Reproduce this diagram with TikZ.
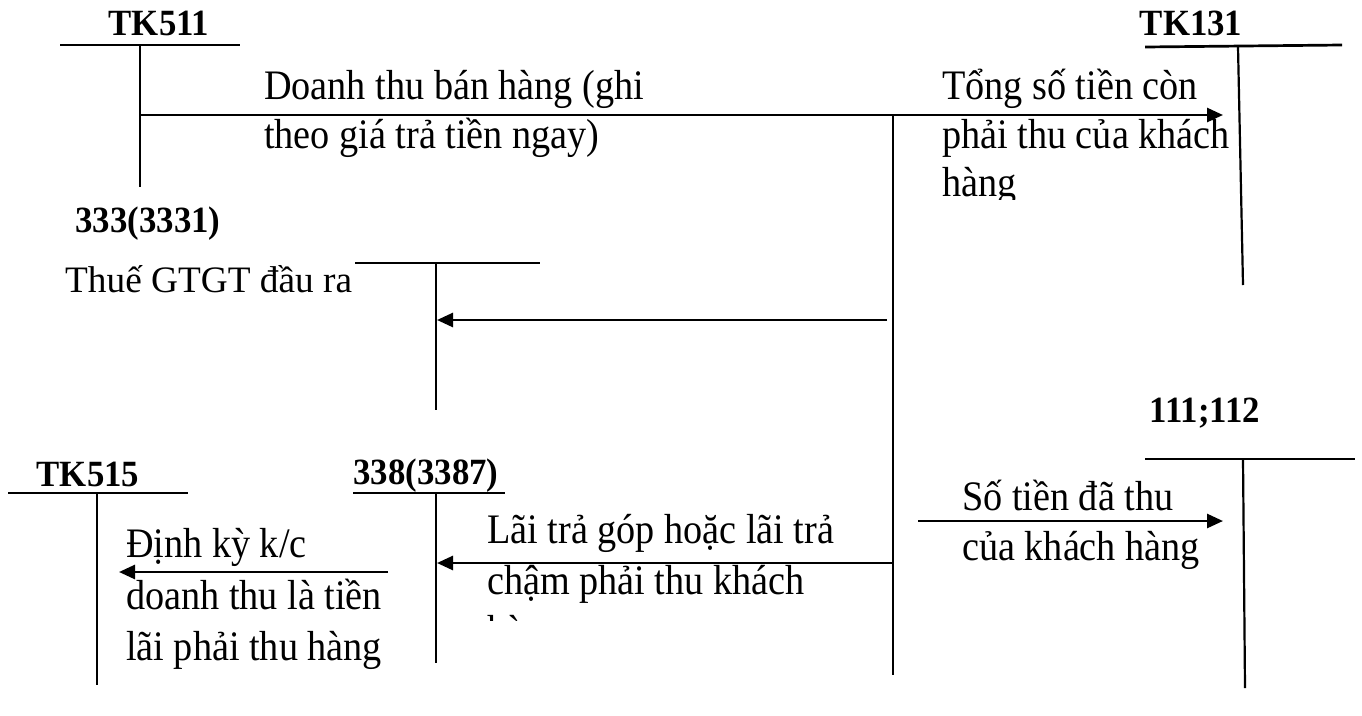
\documentclass[tikz,border=0pt]{standalone}
\usepackage{fontspec}
\setmainfont{Liberation Serif}
\newfontfamily\bodyfont[FakeStretch=0.91]{Liberation Serif}
\newfontfamily\labelfont[FakeStretch=0.94]{Liberation Serif}
\usetikzlibrary{arrows.meta}
\begin{document}
\begin{tikzpicture}[x=1pt,y=-1pt,
  hline/.style={line width=2.7pt},
  vline/.style={line width=2.2pt},
  flow/.style={line width=2.7pt,-{Triangle[length=16pt,width=14pt]}},
  lbl/.style={font=\labelfont\fontsize{37}{40}\selectfont\bfseries,inner sep=0pt,anchor=base},
  txt/.style={font=\bodyfont\fontsize{42}{49}\selectfont,inner sep=0pt,anchor=base west},
  taxtxt/.style={font=\fontsize{37.3}{45}\selectfont,inner sep=0pt,anchor=base west},
]
\useasboundingbox (0,0) rectangle (1362,715);

% account labels
\node[lbl] (tk511) at (159,35) {TK511};
\node[lbl] (tk131) at (1191,35) {TK131};
\node[lbl] (tk333) at (148,232) {333(3331)};
\node[lbl] (tk111) at (1205,422) {111;112};
\node[lbl] (tk515) at (88,486) {TK515};
\node[lbl] (tk338) at (426,484) {338(3387)};

% T-account coordinates
\coordinate (a511l) at (60,45);  \coordinate (a511r) at (240,45);
\coordinate (a511t) at (140,46); \coordinate (a511b) at (140,187);
\coordinate (a131l) at (1145,47); \coordinate (a131r) at (1342,45);
\coordinate (a131t) at (1238,47); \coordinate (a131b) at (1243,285);
\coordinate (a333l) at (355,263); \coordinate (a333r) at (540,263);
\coordinate (a333t) at (436,263); \coordinate (a333b) at (436,410);
\coordinate (a111l) at (1145,459); \coordinate (a111r) at (1355,459);
\coordinate (a111t) at (1243,459); \coordinate (a111b) at (1245,688);
\coordinate (a515l) at (8,493);  \coordinate (a515r) at (188,493);
\coordinate (a515t) at (97,493); \coordinate (a515b) at (97,685);
\coordinate (a338l) at (353,493); \coordinate (a338r) at (505,493);
\coordinate (a338t) at (436,493); \coordinate (a338b) at (436,663);

\draw[hline] (a511l) -- (a511r);  \draw[vline] (a511t) -- (a511b);
\draw[hline] (a131l) -- (a131r);  \draw[vline] (a131t) -- (a131b);
\draw[hline] (a333l) -- (a333r);  \draw[vline] (a333t) -- (a333b);
\draw[hline] (a111l) -- (a111r);  \draw[vline] (a111t) -- (a111b);
\draw[hline] (a515l) -- (a515r);  \draw[vline] (a515t) -- (a515b);
\draw[hline] (a338l) -- (a338r);  \draw[vline] (a338t) -- (a338b);

% flows
\coordinate (m0) at (140,115); \coordinate (m1) at (1223,115);
\coordinate (tr0) at (893,115); \coordinate (tr1) at (893,675);
\coordinate (v0) at (887,320); \coordinate (v1) at (437,320);
\coordinate (c0) at (918,521); \coordinate (c1) at (1223,521);
\coordinate (i0) at (893,563); \coordinate (i1) at (437,563);
\coordinate (k0) at (388,572); \coordinate (k1) at (119,572);

\draw[flow] (m0) -- (m1);
\draw[vline] (tr0) -- (tr1);
\draw[flow] (v0) -- (v1);
\draw[flow] (c0) -- (c1);
\draw[flow] (i0) -- (i1);
\draw[flow] (k0) -- (k1);

% texts
\node[txt] (dt1) at (264,99) {Doanh thu bán hàng (ghi};
\node[txt] (dt2) at (264,148) {theo giá trả tiền ngay)};
\node[txt] (ts1) at (942,99) {Tổng số tiền còn};
\node[txt] (ts2) at (942,148) {phải thu của khách};
\begin{scope}
  \clip (900,160) rectangle (1230,199);
  \node[txt] (ts3) at (942,196) {hàng};
\end{scope}
\node[taxtxt] (thue) at (65,292) {Thuế GTGT đầu ra};
\node[txt] (so1) at (962,510) {Số tiền đã thu};
\node[txt] (so2) at (962,560) {của khách hàng};
\node[txt] (lai1) at (487,543) {Lãi trả góp hoặc lãi trả};
\node[txt] (lai2) at (487,594) {chậm phải thu khách};
\begin{scope}
  \clip (470,605) rectangle (880,620);
  \node[txt] (lai3) at (487,644) {hàng};
\end{scope}
\node[txt] (dk1) at (126,557) {Định kỳ k/c};
\node[txt] (dk2) at (126,609) {doanh thu là tiền};
\node[txt] (dk3) at (126,660) {lãi phải thu hàng};
\end{tikzpicture}
\end{document}
